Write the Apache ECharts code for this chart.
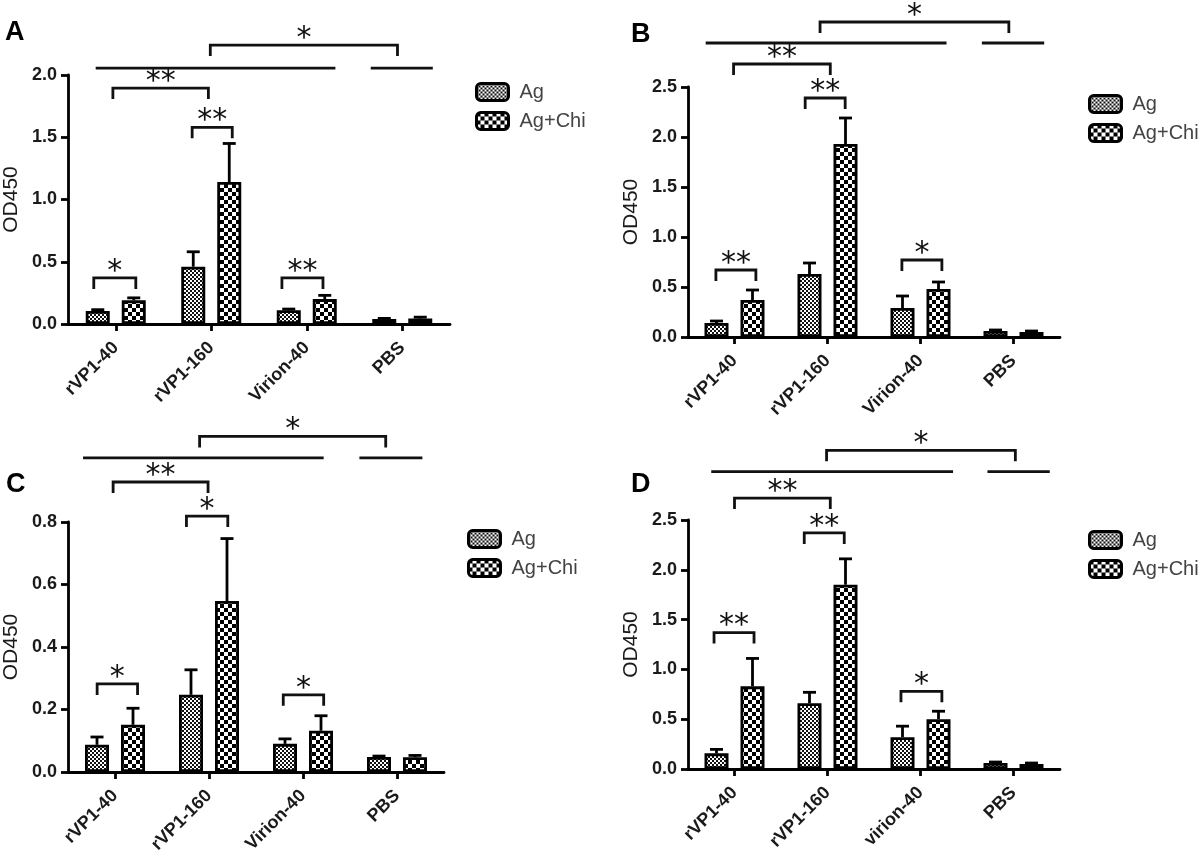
<!DOCTYPE html>
<html>
<head>
<meta charset="utf-8">
<script src="https://cdn.jsdelivr.net/npm/echarts@6/dist/echarts.min.js"></script>
<style>
html,body{margin:0;padding:0;background:#fff;}
#chart{width:1200px;height:857px;}
</style>
</head>
<body>
<div id="chart"></div>
<script>
// ---------------- data ----------------
const panelLetters = ['A', 'B', 'C', 'D'];
const catsA = ['rVP1-40', 'rVP1-160', 'Virion-40', 'PBS'];
const catsB = ['rVP1-40', 'rVP1-160', 'Virion-40', 'PBS'];
const catsC = ['rVP1-40', 'rVP1-160', 'Virion-40', 'PBS'];
const catsD = ['rVP1-40', 'rVP1-160', 'virion-40', 'PBS'];
const seriesNames = ['Ag', 'Ag+Chi'];

const agA = [0.105, 0.46, 0.11, 0.04];
const agErrA = [0.01, 0.12, 0.01, 0.005];
const chiA = [0.19, 1.14, 0.20, 0.045];
const chiErrA = [0.02, 0.31, 0.03, 0.01];

const agB = [0.14, 0.63, 0.29, 0.06];
const agErrB = [0.02, 0.11, 0.12, 0.01];
const chiB = [0.37, 1.93, 0.48, 0.05];
const chiErrB = [0.10, 0.26, 0.07, 0.01];

const agC = [0.087, 0.247, 0.09, 0.048];
const agErrC = [0.025, 0.08, 0.016, 0.003];
const chiC = [0.151, 0.547, 0.132, 0.047];
const chiErrC = [0.053, 0.20, 0.048, 0.006];

const agD = [0.157, 0.66, 0.32, 0.06];
const agErrD = [0.04, 0.11, 0.11, 0.01];
const chiD = [0.83, 1.85, 0.50, 0.05];
const chiErrD = [0.28, 0.26, 0.08, 0.01];

// y-axis ranges: max and interval
const yMaxA = 2.0, yStepA = 0.5;
const yMaxB = 2.5, yStepB = 0.5;
const yMaxC = 0.8, yStepC = 0.2;
const yMaxD = 2.5, yStepD = 0.5;

// significance marks: [from (category units), to (category units), OD450 level, label]
const sigA = [
  [-0.21, 2.30, 2.056, ''], [2.67, 3.32, 2.056, ''],
  [0.99, 2.95, 2.24, '*'], [-0.03, 0.97, 1.895, '**'],
  [0.80, 1.22, 1.58, '**'], [-0.23, 0.21, 0.37, '*'], [1.74, 2.17, 0.37, '**']
];
const sigB = [
  [-0.31, 2.28, 2.94, ''], [2.66, 3.33, 2.94, ''],
  [0.92, 2.95, 3.15, '*'], [-0.01, 1.03, 2.73, '**'],
  [0.76, 1.19, 2.39, '**'], [-0.20, 0.23, 0.67, '**'], [1.80, 2.23, 0.77, '*']
];
const sigC = [
  [-0.34, 2.22, 1.005, ''], [2.60, 3.27, 1.005, ''],
  [0.90, 2.88, 1.074, '*'], [-0.02, 0.99, 0.928, '**'],
  [0.76, 1.20, 0.819, '*'], [-0.19, 0.24, 0.282, '*'], [1.79, 2.22, 0.247, '*']
];
const sigD = [
  [-0.25, 2.35, 2.985, ''], [2.72, 3.39, 2.985, ''],
  [0.99, 3.02, 3.20, '*'], [0.00, 1.03, 2.72, '**'],
  [0.75, 1.18, 2.37, '**'], [-0.22, 0.21, 1.37, '**'], [1.79, 2.23, 0.78, '*']
];

// ---------------- layout / style ----------------
const grids = [
  {left: 66, top: 75, width: 384, height: 249},
  {left: 688, top: 87, width: 372, height: 250},
  {left: 66, top: 522, width: 378, height: 250},
  {left: 688, top: 520, width: 372, height: 249}
];
const legendPos = [
  {left: 475, top: 82}, {left: 1088, top: 94}, {left: 467, top: 529}, {left: 1088, top: 530}
];
const letterPos = [
  {left: 5, top: 19}, {left: 631, top: 21}, {left: 6, top: 471}, {left: 631, top: 471}
];
const FONT = '"Liberation Sans", Arial, sans-serif';
const BAR_W = 24, BAR_GAP = 12;
const LW = 2.8;
const DROP = 11;

function checker(cell, fg, bg) {
  const c = document.createElement('canvas');
  c.width = c.height = cell * 2;
  const g = c.getContext('2d');
  g.fillStyle = bg; g.fillRect(0, 0, cell * 2, cell * 2);
  g.fillStyle = fg; g.fillRect(0, 0, cell, cell); g.fillRect(cell, cell, cell, cell);
  return c;
}
const patAg = {image: checker(2, '#111111', '#ffffff'), repeat: 'repeat'};
const patChi = {image: checker(4, '#000000', '#ffffff'), repeat: 'repeat'};

const panels = [
  {cats: catsA, ag: agA, agErr: agErrA, chi: chiA, chiErr: chiErrA, max: yMaxA, step: yStepA, sig: sigA},
  {cats: catsB, ag: agB, agErr: agErrB, chi: chiB, chiErr: chiErrB, max: yMaxB, step: yStepB, sig: sigB},
  {cats: catsC, ag: agC, agErr: agErrC, chi: chiC, chiErr: chiErrC, max: yMaxC, step: yStepC, sig: sigC},
  {cats: catsD, ag: agD, agErr: agErrD, chi: chiD, chiErr: chiErrD, max: yMaxD, step: yStepD, sig: sigD}
];

function errRenderer(sign) {
  return function (params, api) {
    const cat = api.value(0), v = api.value(1), top = api.value(2);
    const p0 = api.coord([cat, v]);
    const p1 = api.coord([cat, top]);
    const x = p0[0] + sign * (BAR_W + BAR_GAP) / 2;
    return {
      type: 'group',
      children: [
        {type: 'line', shape: {x1: x, y1: p0[1], x2: x, y2: p1[1]}, style: {stroke: '#000', lineWidth: LW}},
        {type: 'line', shape: {x1: x - 6.5, y1: p1[1], x2: x + 6.5, y2: p1[1]}, style: {stroke: '#000', lineWidth: LW}}
      ]
    };
  };
}

function sigRenderer(list) {
  return function (params, api) {
    const s = list[params.dataIndex];
    const base = api.coord([0, s[2]]);
    const band = api.size([1, 0])[0];
    const x1 = base[0] + s[0] * band, x2 = base[0] + s[1] * band, y = base[1];
    const pts = s[3] ? [[x1, y + DROP], [x1, y], [x2, y], [x2, y + DROP]] : [[x1, y], [x2, y]];
    const children = [{type: 'polyline', shape: {points: pts}, style: {stroke: '#111', lineWidth: LW, fill: null}}];
    if (s[3]) {
      children.push({
        type: 'text', x: (x1 + x2) / 2, y: y + 9,
        style: {text: s[3], font: 'normal 30px "DejaVu Sans", sans-serif', fill: '#111', align: 'center', verticalAlign: 'bottom'}
      });
    }
    return {type: 'group', children: children};
  };
}

const option = {
  animation: false,
  backgroundColor: '#fff',
  title: panelLetters.map((t, i) => ({
    text: t, left: letterPos[i].left, top: letterPos[i].top, padding: 0,
    textStyle: {fontFamily: FONT, fontSize: 27, fontWeight: 'bold', color: '#000'}
  })),
  legend: panels.map((p, i) => ({
    data: seriesNames, orient: 'vertical', left: legendPos[i].left, top: legendPos[i].top,
    padding: 0, itemWidth: 32, itemHeight: 17, itemGap: 9, icon: 'roundRect',
    itemStyle: {borderColor: '#000', borderWidth: 3},
    textStyle: {fontFamily: FONT, fontSize: 20, color: '#444', padding: [0, 0, 0, 6]},
    selectedMode: false
  })),
  grid: grids.map(g => Object.assign({containLabel: false}, g)),
  xAxis: panels.map((p, i) => ({
    type: 'category', gridIndex: i, data: p.cats, boundaryGap: true,
    axisLine: {show: true, lineStyle: {color: '#000', width: LW}},
    axisTick: {show: true, alignWithLabel: true, length: 7, lineStyle: {color: '#000', width: LW}},
    axisLabel: {rotate: 45, margin: 21, fontFamily: FONT, fontSize: 18, fontWeight: 'bold', color: '#1a1a1a'},
    splitLine: {show: false}
  })),
  yAxis: panels.map((p, i) => ({
    type: 'value', gridIndex: i, min: 0, max: p.max, interval: p.step,
    name: 'OD450', nameLocation: 'middle', nameGap: 46, nameRotate: 90,
    nameTextStyle: {fontFamily: FONT, fontSize: 21, color: '#1a1a1a'},
    axisLine: {show: true, lineStyle: {color: '#000', width: LW}},
    axisTick: {show: true, length: 7, lineStyle: {color: '#000', width: LW}},
    axisLabel: {margin: 11, fontFamily: FONT, fontSize: 18, fontWeight: 'bold', color: '#1a1a1a',
      formatter: v => v.toFixed(1)},
    splitLine: {show: false}
  })),
  series: []
};

panels.forEach((p, i) => {
  option.series.push({
    type: 'bar', name: 'Ag', xAxisIndex: i, yAxisIndex: i, data: p.ag,
    barWidth: BAR_W, barGap: (BAR_GAP / BAR_W * 100) + '%',
    itemStyle: {color: patAg, borderColor: '#000', borderWidth: LW}
  });
  option.series.push({
    type: 'bar', name: 'Ag+Chi', xAxisIndex: i, yAxisIndex: i, data: p.chi,
    barWidth: BAR_W, barGap: (BAR_GAP / BAR_W * 100) + '%',
    itemStyle: {color: patChi, borderColor: '#000', borderWidth: LW}
  });
  option.series.push({
    type: 'custom', name: 'errAg', xAxisIndex: i, yAxisIndex: i, clip: false, z: 3,
    renderItem: errRenderer(-1),
    data: p.ag.map((v, k) => [k, v, v + p.agErr[k]])
  });
  option.series.push({
    type: 'custom', name: 'errChi', xAxisIndex: i, yAxisIndex: i, clip: false, z: 3,
    renderItem: errRenderer(1),
    data: p.chi.map((v, k) => [k, v, v + p.chiErr[k]])
  });
  option.series.push({
    type: 'custom', name: 'sig', xAxisIndex: i, yAxisIndex: i, clip: false, z: 4,
    renderItem: sigRenderer(p.sig),
    data: p.sig.map(s => [0, s[2]])
  });
});

const chart = echarts.init(document.getElementById('chart'), null, {renderer: 'canvas'});
chart.setOption(option);
</script>
</body>
</html>
